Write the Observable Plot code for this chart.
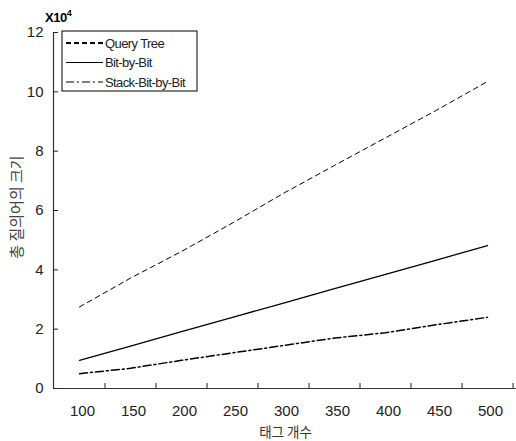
<!DOCTYPE html>
<html>
<head>
<meta charset="utf-8">
<script src="https://cdn.jsdelivr.net/npm/d3@7"></script>
<script src="https://cdn.jsdelivr.net/npm/@observablehq/plot@0.6"></script>
<style>
  html, body { margin: 0; padding: 0; background: #fff; }
  #chart { position: relative; width: 516px; height: 441px; }
  svg { font-family: "Liberation Sans", "Noto Sans CJK KR", sans-serif; }
</style>
</head>
<body>
<div id="chart"></div>
<script>
// ---- data ----
const tags = [100, 150, 200, 250, 300, 350, 400, 450, 500];
const queryTree = [2.75, 3.72, 4.62, 5.58, 6.58, 7.52, 8.45, 9.38, 10.35];
const bitByBit = [0.95, 1.43, 1.92, 2.40, 2.88, 3.37, 3.85, 4.33, 4.82];
const stackBitByBit = [0.50, 0.68, 0.95, 1.20, 1.45, 1.70, 1.88, 2.15, 2.40];
const seriesNames = ["Query Tree", "Bit-by-Bit", "Stack-Bit-by-Bit"];
const xTickLabels = [100, 150, 200, 250, 300, 350, 400, 450, 500];
const xTickMarks = [125, 175, 225, 275, 325, 375, 425, 475, 525];
const yTicks = [0, 2, 4, 6, 8, 10, 12];
const xTitle = "태그 개수";
const yTitle = "총 질의어의 크기";

// ---- layout ----
const W = 516, H = 441;
const mL = 53, mR = 0, mT = 32, mB = 53;
const xLeft = 74.5, xRight = 528.4;
const pxPerX = (W - mL - mR) / (xRight - xLeft);
const pxPerY = (H - mT - mB) / 12;
const tickLen = 5;
const dashes = ["5,4", null, "8,3,2,3"];
const widths = [1, 1.3, 1.5];

const table = [];
[queryTree, bitByBit, stackBitByBit].forEach((vals, s) =>
  vals.forEach((v, i) => table.push({series: seriesNames[s], x: tags[i], y: v})));

const lineMarks = seriesNames.map((name, s) =>
  Plot.line(table.filter(d => d.series === name), {
    x: "x", y: "y", stroke: "#000", strokeWidth: widths[s],
    strokeDasharray: dashes[s] ?? undefined
  }));

const plot = Plot.plot({
  width: W, height: H,
  marginLeft: mL, marginRight: mR, marginTop: mT, marginBottom: mB,
  x: {domain: [xLeft, xRight], axis: null},
  y: {domain: [0, 12], axis: null},
  style: {background: "#fff", overflow: "visible"},
  marks: [
    ...lineMarks,
    Plot.ruleY([0], {x1: xLeft, x2: xRight, stroke: "#333", strokeWidth: 1.2}),
    Plot.ruleX([xLeft], {y1: 0, y2: 12, stroke: "#333", strokeWidth: 1.2}),
    Plot.ruleX(xTickMarks, {x: d => d, y1: 0, y2: tickLen / pxPerY, stroke: "#222"}),
    Plot.ruleY(yTicks, {y: d => d, x1: xLeft, x2: xLeft + tickLen / pxPerX, stroke: "#222"}),
    Plot.text(xTickLabels, {x: d => d, y: 0, dy: 23, dx: 3, text: d => String(d),
      fontSize: 15, fill: "#222", letterSpacing: "-1px"}),
    Plot.text(yTicks, {x: xLeft, y: d => d, dx: -10, textAnchor: "end", text: d => String(d),
      fontSize: 15, fill: "#222", letterSpacing: "-1px"}),
    Plot.text([xTitle], {x: xLeft + (285 - mL) / pxPerX, y: 0, dy: 44, text: d => d,
      fontSize: 13.5, fill: "#333", fontFamily: "Noto Sans CJK KR"})
  ]
});
document.getElementById("chart").appendChild(plot);

const svg = d3.select(plot);
// y title
svg.append("text")
  .attr("transform", "translate(18,207) rotate(-90)")
  .attr("text-anchor", "middle").attr("dominant-baseline", "middle")
  .attr("font-size", 15).attr("fill", "#444")
  .attr("font-family", "Noto Sans CJK KR")
  .text(yTitle);
// multiplier
const mult = svg.append("text").attr("x", 45).attr("y", 22)
  .attr("text-anchor", "start")
  .attr("font-size", 13).attr("font-weight", "bold").attr("fill", "#000")
  .attr("letter-spacing", "-0.5px");
mult.append("tspan").text("X10");
mult.append("tspan").attr("dy", -6).attr("font-size", 9).text("4");

// legend
const lg = svg.append("g");
lg.append("rect").attr("x", 62).attr("y", 31).attr("width", 135).attr("height", 60)
  .attr("fill", "#fff").attr("stroke", "#000").attr("stroke-width", 1);
const legendDash = ["5,3", null, "8,3,2,3"];
const legendWidth = [2, 1, 1];
seriesNames.forEach((name, s) => {
  const yy = 43 + s * 19.5;
  lg.append("line").attr("x1", 66).attr("x2", 103).attr("y1", yy).attr("y2", yy)
    .attr("stroke", "#000").attr("stroke-width", legendWidth[s])
    .attr("stroke-dasharray", legendDash[s]);
  lg.append("text").attr("x", 105).attr("y", yy).attr("dy", "0.35em")
    .attr("text-anchor", "start")
    .attr("font-size", 13).attr("letter-spacing", "-0.6px").attr("fill", "#222")
    .text(name);
});
</script>
</body>
</html>
